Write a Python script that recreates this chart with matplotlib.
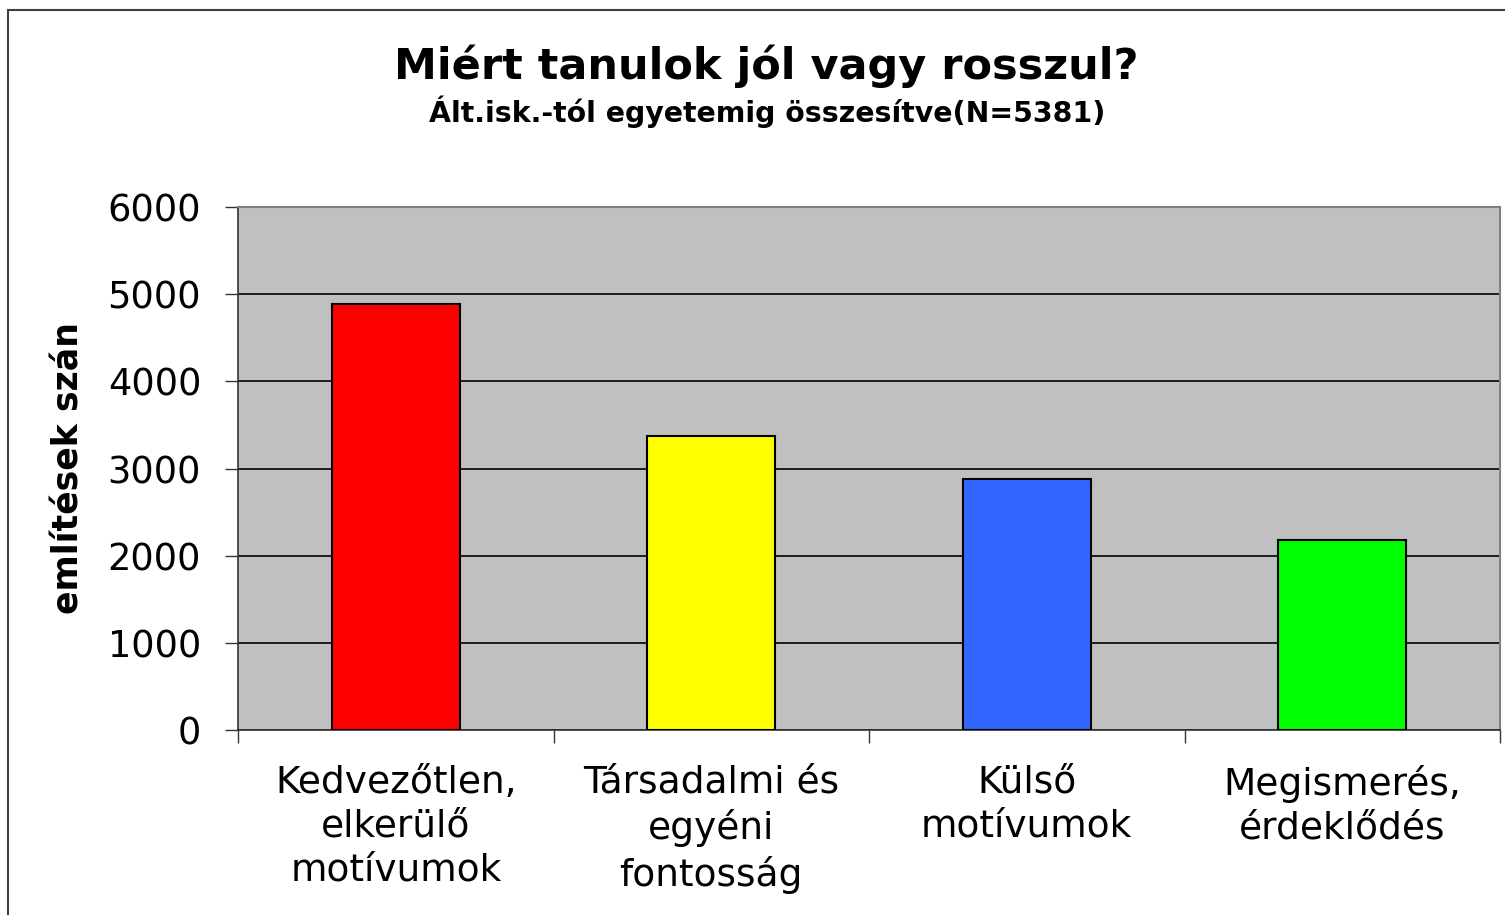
import matplotlib.pyplot as plt
from matplotlib.patches import Rectangle

plt.rcParams["font.family"] = ["DejaVu Sans"]

categories = ["Kedvezőtlen,\nelkerülő\nmotívumok",
              "Társadalmi és\negyéni\nfontosság",
              "Külső\nmotívumok",
              "Megismerés,\nérdeklődés"]
values = [4890, 3375, 2880, 2175]
colors = ["#FF0000", "#FFFF00", "#3366FF", "#00FF00"]
yticks = [0, 1000, 2000, 3000, 4000, 5000, 6000]

fig = plt.figure(figsize=(15.05, 9.15), dpi=100)
fig.patches.append(Rectangle((8 / 1505, -0.1), 1.2, 1.1 - 10 / 915,
                             transform=fig.transFigure, fill=False,
                             edgecolor="#404040", linewidth=1.5))

ax = fig.add_axes([238 / 1505, 1 - 730 / 915, 1262 / 1505, 523 / 915])
ax.set_facecolor("#C0C0C0")
x = range(len(categories))
ax.bar(x, values, width=0.405, color=colors, edgecolor="black", linewidth=1.5, zorder=3)

ax.set_xlim(-0.5, 3.5)
ax.set_ylim(0, 6000)
ax.set_yticks(yticks)
ax.set_yticklabels([str(v) for v in yticks], fontsize=26.5)
ax.grid(axis="y", color="black", linewidth=1.2, zorder=1)
ax.tick_params(axis="y", length=9.5, width=1, color="#333333", pad=17)

ax.set_xticks(list(x))
ax.set_xticklabels(categories, fontsize=27, linespacing=1.29, va="top")
ax.tick_params(axis="x", which="major", length=0, pad=25)
ax.set_xticks([-0.5, 0.5, 1.5, 2.5, 3.5], minor=True)
ax.tick_params(axis="x", which="minor", length=9, width=1, color="#333333")

for side in ["top", "right"]:
    ax.spines[side].set_color("#808080")
    ax.spines[side].set_linewidth(1.5)
for side in ["left", "bottom"]:
    ax.spines[side].set_color("#333333")
    ax.spines[side].set_linewidth(1.2)

ax.set_ylabel("említések szán", fontsize=25, fontweight="bold")
ax.yaxis.set_label_coords(-0.121, 0.5)

fig.text(766 / 1505, 1 - 66 / 915, "Miért tanulok jól vagy rosszul?",
         fontsize=31, fontweight="bold", ha="center", va="center")
fig.text(767 / 1505, 1 - 112 / 915, "Ált.isk.-tól egyetemig összesítve(N=5381)",
         fontsize=20.4, fontweight="bold", ha="center", va="center")

fig.savefig("out.png", dpi=100)
